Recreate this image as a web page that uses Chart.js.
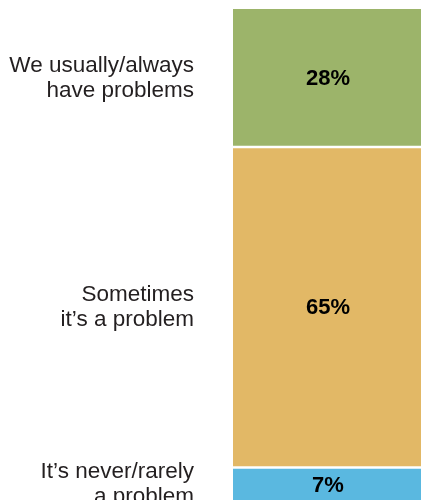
<!DOCTYPE html>
<html lang="en">
<head>
    <meta charset="UTF-8">
    <title>Problems - stacked bar</title>
    <script src="https://cdn.jsdelivr.net/npm/chart.js"></script>
    <style>
        html, body {
            margin: 0;
            overflow: hidden;
            background: #fff;
        }
        .chart-container {
            width: 421px;
            height: 502px;
        }
    </style>
</head>
<body>
    <div class="chart-container">
        <canvas id="stackChart"></canvas>
    </div>

    <script>
        // bottom to top, as Chart.js stacks them
        const categories = ["All"];
        const segmentLabels = [
            ["It\u2019s never/rarely", "a problem"],
            ["Sometimes", "it\u2019s a problem"],
            ["We usually/always", "have problems"]
        ];
        const segmentValues = [7, 65, 28];
        const segmentColors = ["#5ab8e0", "#e2b866", "#9cb46a"];

        // draws the side captions and the % inside each segment
        const labelPlugin = {
            id: "segmentText",
            afterDatasetsDraw(chart) {
                const ctx = chart.ctx;
                ctx.save();
                chart.data.datasets.forEach((ds, i) => {
                    const bar = chart.getDatasetMeta(i).data[0];
                    const midY = (bar.y + bar.base) / 2;

                    ctx.fillStyle = "#000";
                    ctx.font = "bold 22px 'Liberation Sans', Arial, sans-serif";
                    ctx.textAlign = "center";
                    ctx.textBaseline = "middle";
                    ctx.fillText(ds.data[0] + "%", bar.x + 1, midY + 1);

                    const lines = segmentLabels[i];
                    ctx.fillStyle = "#231f20";
                    ctx.font = "22.5px 'Liberation Sans', Arial, sans-serif";
                    ctx.textAlign = "right";
                    const lh = 25;
                    const startY = midY - (lines.length - 1) * lh / 2;
                    lines.forEach((t, k) => ctx.fillText(t, 194, startY + k * lh));
                });
                ctx.restore();
            }
        };

        new Chart(document.getElementById("stackChart"), {
            type: "bar",
            data: {
                labels: categories,
                datasets: segmentValues.map((v, i) => ({
                    label: segmentLabels[i].join(" "),
                    data: [v],
                    backgroundColor: segmentColors[i],
                    borderColor: "#fff",
                    borderWidth: { top: i === 2 ? 0 : 1.5, bottom: 1.5, left: 0, right: 0 },
                    borderSkipped: false,
                    barPercentage: 1,
                    categoryPercentage: 1
                }))
            },
            options: {
                responsive: true,
                maintainAspectRatio: false,
                animation: false,
                layout: { padding: { left: 233, right: 0, top: 9, bottom: 0 } },
                scales: {
                    x: { stacked: true, display: false },
                    y: { stacked: true, display: false, min: 0, max: 100 }
                },
                plugins: {
                    legend: { display: false },
                    tooltip: { enabled: false }
                }
            },
            plugins: [labelPlugin]
        });
    </script>
</body>
</html>
